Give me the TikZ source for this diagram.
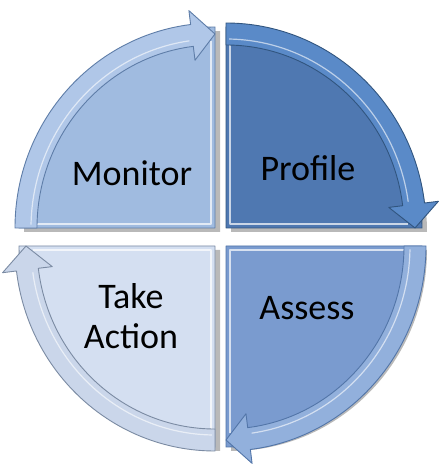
\documentclass[tikz,border=0pt]{standalone}
\usepackage{fontspec}
\setmainfont{Carlito}
\usetikzlibrary{shadows}

\definecolor{monitorfill}{HTML}{A0BBE0}
\definecolor{monitorarrow}{HTML}{B0C7E8}
\definecolor{monitoredge}{HTML}{5E7DA8}
\definecolor{profilefill}{HTML}{4F78B1}
\definecolor{profilearrow}{HTML}{5A8AC8}
\definecolor{profileedge}{HTML}{31557F}
\definecolor{assessfill}{HTML}{7A9BCF}
\definecolor{assessarrow}{HTML}{92B0DC}
\definecolor{assessedge}{HTML}{5275A8}
\definecolor{actionfill}{HTML}{D4DFF1}
\definecolor{actionarrow}{HTML}{CAD6EA}
\definecolor{actionedge}{HTML}{7B8BA3}

% quarter of the cycle: #1 corner, #2 start angle, #3 end angle, #4 colour set
\newcommand{\cyclepart}[4]{%
  \begin{scope}[shift={(#1)}]
    \filldraw[fill=#4fill, draw=#4edge, line width=0.9pt, line join=round, pieshadow]
      (0,0) -- (#2:196pt and 201pt)
      arc[start angle=#2, end angle=#3, x radius=196pt, y radius=201pt] -- cycle;
    \begin{scope}[shift={({(#2+#3)/2}:6pt)}]
      \draw[white, opacity=0.7, line width=1.6pt, line join=round]
        (#3:178pt and 183pt) -- (0,0) -- (#2:178pt and 183pt);
    \end{scope}
    \filldraw[fill=#4arrow, draw=#4edge, line width=0.9pt, line join=round]
      (#2:200pt and 205pt)
      arc[start angle=#2, end angle=#3+7, x radius=200pt, y radius=205pt]
      -- ({#3+7}:214pt and 219pt) -- (#3:189pt and 194pt) -- ({#3+7}:164pt and 169pt)
      -- ({#3+7}:178pt and 183pt)
      arc[start angle=#3+7, end angle=#2, x radius=178pt, y radius=183pt] -- cycle;
    \draw[white, opacity=0.6, line width=1.2pt]
      ({#2-1}:184pt and 189pt)
      arc[start angle=#2-1, end angle=#3+8, x radius=184pt, y radius=189pt];
  \end{scope}}

\begin{document}
\begin{tikzpicture}[
  pieshadow/.style={drop shadow={opacity=0.55, shadow xshift=5pt, shadow yshift=-4pt}},
  stage/.style={font=\fontsize{36}{40}\selectfont, align=center, text=black}]
  \useasboundingbox (0,0) rectangle (444pt,472pt);
  \fill[white] (0,0) rectangle (444pt,472pt);

  \coordinate (mc) at (215pt,244pt);
  \coordinate (pc) at (226pt,244pt);
  \coordinate (ac) at (226pt,226pt);
  \coordinate (tc) at (215pt,226pt);

  \cyclepart{mc}{180}{90}{monitor}
  \cyclepart{pc}{90}{0}{profile}
  \cyclepart{ac}{0}{-90}{assess}
  \cyclepart{tc}{-90}{-180}{action}

  \node[stage] (monitor) at (132pt,299pt) {Monitor};
  \node[stage] (profile) at (308pt,304pt) {Profile};
  \node[stage] (assess) at (307pt,164pt) {Assess};
  \node[stage] (action) at (131pt,156pt) {Take\\Action};
\end{tikzpicture}
\end{document}
